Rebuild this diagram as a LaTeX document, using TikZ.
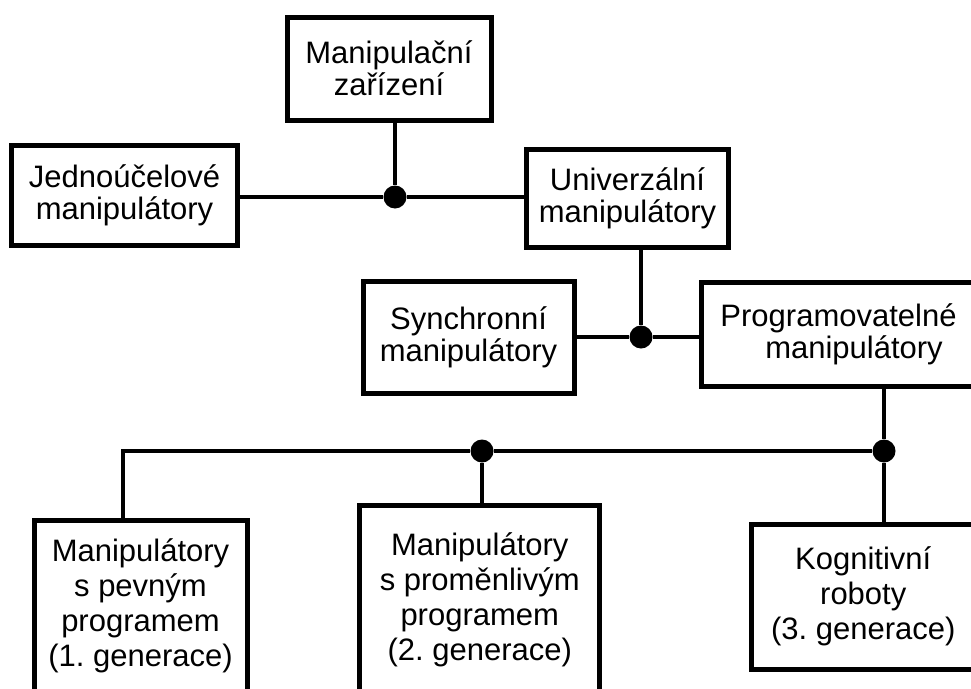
\documentclass[tikz,border=0pt]{standalone}
\usepackage{fontspec}
\setmainfont{Liberation Sans}
\usetikzlibrary{positioning}

\begin{document}
\frenchspacing
\begin{tikzpicture}[x=1pt,y=-1pt,
  box/.style={rectangle,draw,line width=5pt,align=center,inner sep=0pt,
              font=\fontsize{31}{32}\selectfont},
  lowbox/.style={box,font=\fontsize{31}{35}\selectfont},
  joint/.style={circle,fill,inner sep=0pt,minimum size=23pt},
  link/.style={line width=4.5pt}]
\useasboundingbox (0,0) rectangle (971,688);
\clip (0,0) rectangle (971,688);
% boxes
\node[box,minimum width=204pt,minimum height=103pt]   (zar)  at (389,68.5)   {Manipulační\\zařízení};
\node[box,minimum width=226pt,minimum height=100pt]   (jedn) at (124.5,195.5) {Jednoúčelové\\manipulátory};
\node[box,minimum width=202pt,minimum height=98pt]    (univ) at (627.5,198.5) {Univerzální\\manipulátory};
\node[box,minimum width=211pt,minimum height=112pt]   (sync) at (468.5,337.75) {Synchronní\\manipulátory};
\node[box,minimum width=274pt,minimum height=104pt]   (prog) at (838.5,334.5) {Programovatelné\\\hspace*{31pt}manipulátory};
\node[lowbox,minimum width=213pt,minimum height=172pt] (gen1) at (140.5,606) {Manipulátory\\s pevným\\programem\\(1. generace)};
\node[lowbox,minimum width=240pt,minimum height=190pt] (gen2) at (479.75,600) {Manipulátory\\s proměnlivým\\programem\\(2. generace)};
\node[lowbox,minimum width=224pt,minimum height=145pt] (gen3) at (863.25,596.5) {Kognitivní\\roboty\\(3. generace)};
% joints
\node[joint] (j1) at (395,197) {};
\node[joint] (j2) at (641,337) {};
\node[joint] (j3) at (482,451) {};
\node[joint] (j4) at (884,451) {};
\coordinate (c1) at (123,451);
% links
\draw[link] (zar.south -| j1) -- (j1);
\draw[link] (jedn.east |- j1) -- (j1) -- (univ.west |- j1);
\draw[link] (univ.south -| j2) -- (j2);
\draw[link] (sync.east |- j2) -- (j2) -- (prog.west |- j2);
\draw[link] (prog.south -| j4) -- (j4) -- (gen3.north -| j4);
\draw[link] (gen1.north -| c1) -- (c1) -- (j3) -- (j4);
\draw[link] (j3) -- (gen2.north -| j3);
\end{tikzpicture}
\end{document}
